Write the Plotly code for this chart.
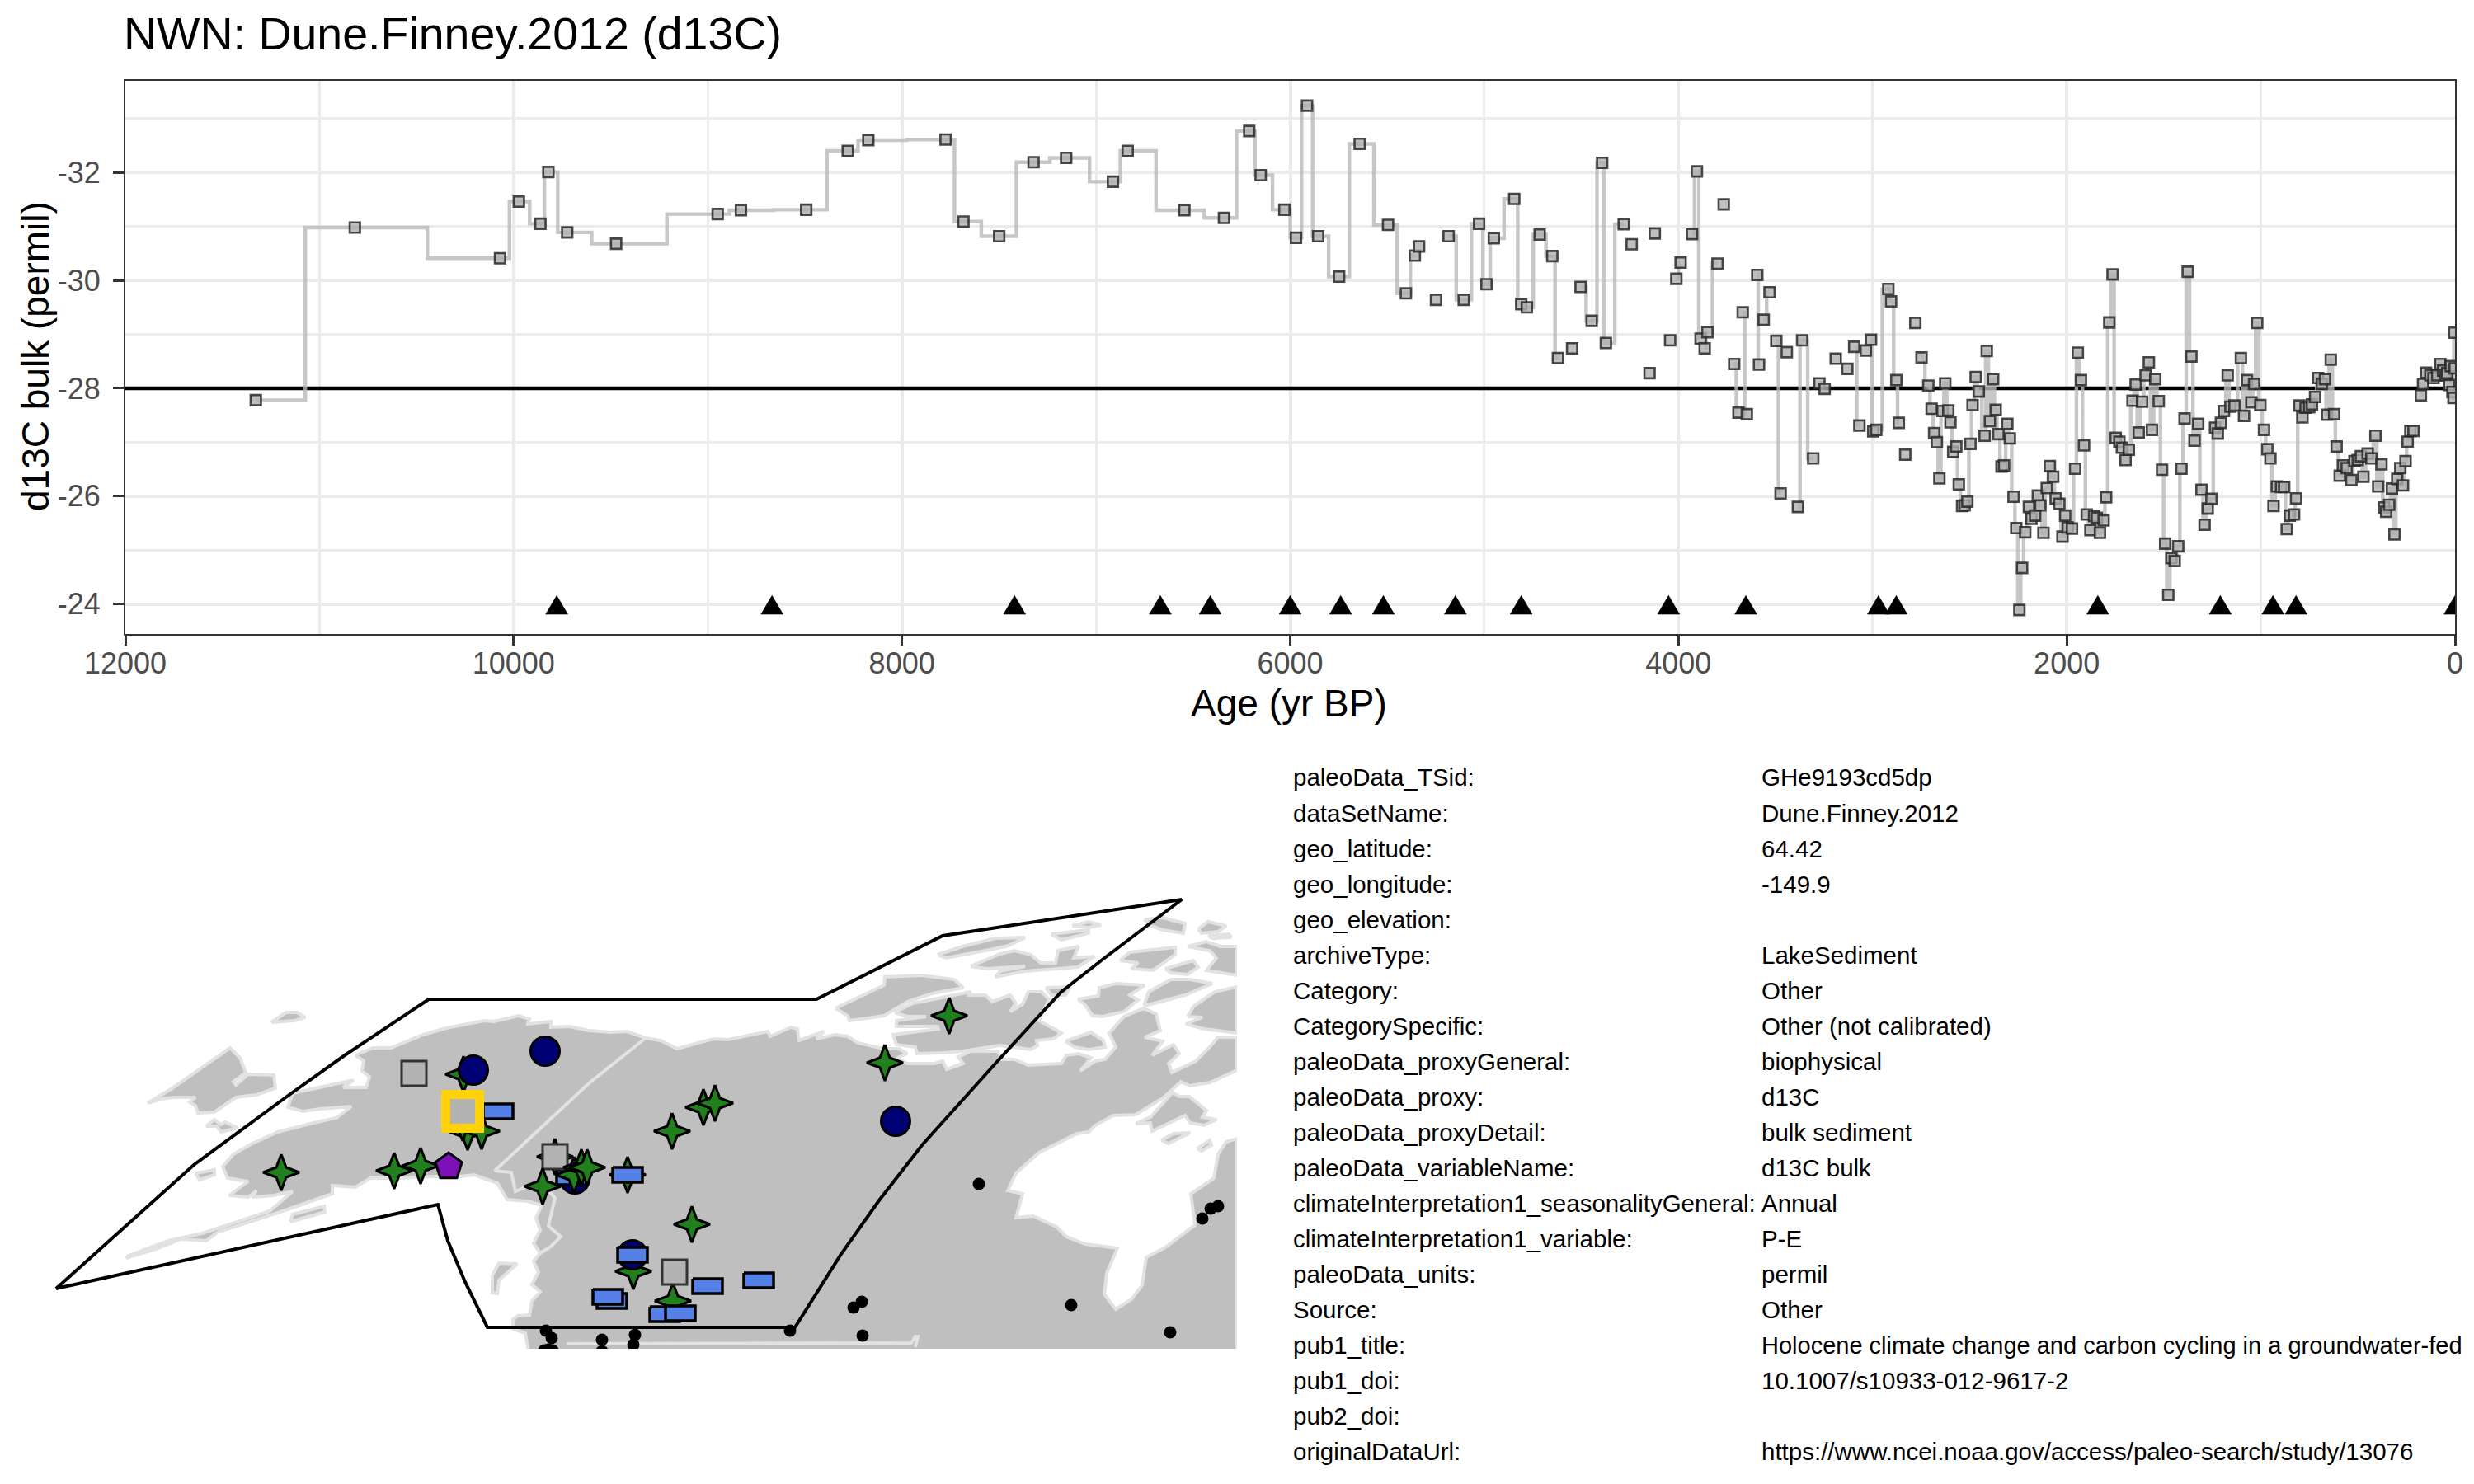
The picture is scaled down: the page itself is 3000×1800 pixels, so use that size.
import plotly.graph_objects as go

N = None
FONT = "Liberation Sans"

# ---------- time series (gaps are None) ----------
age_yr = [
 11328,10818,10070,9973,9862,9821,9724,9472,8949,8829,8493,8279,8173,7775,7683,7499,7322,7154,6913,6837,
 6545,6341,6211,6152,6030,5970,5913,5856,5748,5642,5496,5404,5358,N,
 5336,N,5249,N,5184,5106,5027,4989,4951,4846,4810,4781,4715,4650,4621,N,
 4548,N,4504,4447,4393,4374,4282,N,4241,N,4149,N,4122,N,4043,N,4011,3989,N,3930,3905,3886,N,
 3865,3851,3799,N,3767,N,3713,3691,N,3669,3648,N,3594,3585,N,3561,3531,N,3496,3474,N,3442,N,
 3385,3363,3306,N,3274,3247,N,3190,N,3130,N,3095,3068,N,3035,N,3008,2997,N,2981,2919,2905,2878,2865,N,
 2832,N,2780,N,
 2748,2713,2696,2683,2669,2656,2640,2626,2610,2599,2585,2569,2556,2539,2526,2512,2496,2485,2469,2453,
 2423,2412,2396,2379,2366,2352,2336,2323,2306,2293,2274,2260,2244,2230,2214,2195,2182,2163,2149,2136,
 2120,2103,2087,2070,2057,2038,2022,2008,1995,1973,1957,1943,1927,1911,1897,1878,1859,1845,1829,1810,
 1797,1781,1764,1748,1729,1716,1697,1680,1661,1645,1629,1612,1594,1577,1561,1544,1526,1509,1493,1477,
 1461,1444,1426,1409,1393,1377,1358,1342,1323,1306,1290,1274,1255,1236,1222,1206,1190,1171,1157,1136,
 1103,1087,1071,1049,1035,1019,1003,984,967,951,935,918,896,880,867,851,829,819,802,786,
 770,751,737,721,705,686,670,659,640,623,610,594,577,558,534,518,501,485,472,450,
 431,410,396,379,366,355,339,325,312,298,282,268,255,244,230,214,N,
 176,165,149,127,111,92,76,62,49,40,30,22,13,8,4,2]
d13c_permil = [
 -27.78,-30.98,-30.41,-31.46,-31.05,-32.01,-30.89,-30.68,-31.23,-31.30,-31.31,-32.40,-32.60,-32.61,-31.09,-30.82,-32.19,-32.27,-31.83,-32.40,
 -31.30,-31.16,-32.77,-31.95,-31.31,-30.79,-33.24,-30.82,-30.07,-32.53,-31.03,-29.76,-30.46,N,
 -30.63,N,-29.64,N,-30.82,-29.64,-31.05,-29.93,-30.78,-31.51,-29.56,-29.50,-30.85,-30.45,-28.56,N,
 -28.74,N,-29.88,-29.25,-32.18,-28.84,-31.04,N,-30.67,N,-28.28,N,-30.87,N,-28.89,N,-30.03,-30.33,N,-30.86,-32.02,-28.92,N,
 -28.74,-29.04,-30.31,N,-31.41,N,-28.45,-27.55,N,-29.41,-27.52,N,-30.10,-28.44,N,-29.27,-29.78,N,-28.88,-26.05,N,-28.67,N,
 -25.80,-28.89,-26.70,N,-28.09,-27.99,N,-28.55,N,-28.36,N,-28.77,-27.31,N,-28.70,N,-28.90,-27.20,N,-27.23,-29.84,-29.61,-28.15,-27.36,N,
 -26.77,N,-29.21,N,
 -28.57,-28.05,-27.62,-27.17,-27.00,-26.33,-27.58,-28.09,-27.59,-27.37,-26.82,-26.92,-26.22,-25.82,-25.83,-25.90,-26.97,-27.69,-28.21,-27.94,
 -27.12,-28.69,-27.39,-28.17,-27.60,-27.15,-26.55,-26.57,-27.34,-27.07,-25.99,-25.41,-23.89,-24.67,-25.33,-25.80,-25.58,-25.64,-26.01,-25.83,
 -25.32,-26.15,-26.56,-26.36,-25.96,-25.86,-25.25,-25.64,-25.42,-25.40,-26.51,-28.66,-28.15,-26.94,-25.66,-25.37,-25.63,-25.60,-25.32,-25.55,
 -25.98,-29.22,-30.11,-27.08,-27.01,-26.90,-26.67,-26.86,-27.77,-28.07,-27.18,-27.75,-28.24,-28.48,-27.23,-28.17,-27.76,-26.49,-25.12,-24.17,
 -24.85,-24.80,-25.07,-26.51,-27.44,-30.16,-28.59,-27.03,-27.34,-26.12,-25.47,-25.77,-25.95,-27.27,-27.16,-27.36,-27.58,-28.24,-27.66,-27.68,
 -28.56,-27.49,-28.15,-27.74,-28.08,-29.21,-27.69,-27.23,-26.87,-26.70,-25.82,-26.18,-26.17,-26.17,-25.39,-25.64,-25.66,-25.96,-27.68,-27.46,
 -27.64,-27.65,-27.70,-27.84,-28.19,-28.08,-28.17,-27.51,-28.53,-27.52,-26.92,-26.38,-26.57,-26.52,-26.30,-26.65,-26.67,-26.74,-26.36,-26.79,
 -26.70,-27.12,-26.18,-26.59,-25.79,-25.71,-25.84,-26.14,-25.29,-26.32,-26.52,-26.20,-26.65,-27.01,-27.21,-27.21,N,
 -27.87,-28.08,-28.29,-28.24,-28.19,-28.24,-28.45,-28.33,-28.24,-28.28,-28.06,-28.41,-27.93,-27.82,-29.03,-28.37]

chron_ages = [9778,8669,7420,6669,6412,6000,5740,5520,5149,4810,4051,3653,2970,2878,1840,1209,938,819,0]
chron_level = -24

x_tick_vals = [12000,10000,8000,6000,4000,2000,0]
x_tick_text = ["12000","10000","8000","6000","4000","2000","0"]
y_tick_vals = [-32,-30,-28,-26,-24]
y_tick_text = ["-32","-30","-28","-26","-24"]
mean_level = -28

# ---------- map, in projected map units ----------
mainland = [(431,1280),(452,1271),(474,1271),(513,1255),(541,1247),(587,1238),(599,1239),(629,1232),(642,1236),(640,1242),(668,1239),(668,1246),(691,1245),(714,1250),(740,1252),(760,1251),(783,1259),(801,1262),(821,1272),(842,1266),(865,1260),(883,1261),(931,1251),(934,1257),(959,1246),(967,1248),(969,1262),(999,1251),(990,1260),(1013,1255),(1028,1257),(1040,1265),(1072,1272),(1090,1272),(1100,1278),(1088,1283),(1100,1290),(1133,1290),(1143,1287),(1148,1297),(1168,1290),(1162,1282),(1177,1275),(1210,1275),(1215,1285),(1230,1285),(1247,1292),(1287,1290),(1293,1280),(1308,1278),(1323,1283),(1310,1299),(1328,1287),(1340,1285),(1353,1270),(1345,1253),(1363,1233),(1387,1223),(1402,1230),(1407,1250),(1388,1258),(1410,1263),(1397,1280),(1423,1267),(1430,1278),(1417,1290),(1421,1301),(1450,1287),(1465,1272),(1477,1258),(1500,1258),
 (1500,1298),(1467,1313),(1443,1317),(1432,1312),(1410,1332),(1377,1352),(1350,1353),(1328,1365),(1320,1373),(1306,1375),(1260,1398),(1232,1423),(1222,1444),(1240,1448),(1232,1477),(1253,1475),(1281,1488),(1293,1500),(1316,1509),(1355,1514),(1342,1544),(1339,1570),(1353,1588),(1372,1576),(1385,1559),(1390,1525),(1413,1513),(1449,1486),(1444,1448),(1472,1429),(1477,1400),(1487,1385),(1500,1381),
 (1500,1650),(643,1650),(637,1617),(622,1612),(622,1600),(628,1596),(642,1595),(645,1578),(655,1567),(645,1558),(653,1543),(647,1530),(655,1520),(647,1508),(655,1492),(650,1477),(657,1462),
 (640,1457),(615,1455),(603,1435),(575,1425),(557,1427),(525,1427),(485,1429),(449,1429),(431,1440),(403,1438),(403,1448),(367,1461),(337,1471),(306,1481),(265,1494),(250,1505),(219,1503),(189,1515),(153,1526),
 (156,1523),(204,1505),(245,1496),(286,1482),(327,1469),(355,1445),(332,1450),(306,1452),(311,1444),(301,1452),(278,1450),(301,1433),(276,1429),(270,1415),(283,1400),(306,1387),(337,1373),(380,1362),(408,1356),(426,1342),(388,1345),(367,1348),(349,1343),(355,1326),(429,1310),(416,1319),(444,1319),(448,1306),(439,1299),(441,1287)]
islands = [
 [(329,1240),(347,1228),(360,1228),(370,1234),(357,1238)],
 [(179,1338),(209,1320),(279,1271),(291,1283),(298,1301),(283,1312),(286,1316),(301,1303),(332,1304),(334,1320),(311,1328),(286,1331),(260,1349),(240,1350),(237,1341),(230,1337),(237,1331),(209,1331),(196,1333)],
 [(250,1366),(260,1358),(268,1364),(273,1361),(288,1368),(268,1373),(263,1366)],
 [(237,1423),(260,1419),(260,1425),(242,1431)],
 [(352,1482),(355,1473),(393,1463),(394,1470)],
 [(597,1547),(605,1532),(627,1533),(605,1553),(603,1569),(597,1568)],
 [(1013,1223),(1072,1195),(1073,1185),(1117,1183),(1157,1188),(1168,1198),(1130,1205),(1100,1215),(1072,1232),(1030,1238),(1028,1232)],
 [(1085,1228),(1107,1217),(1177,1203),(1175,1207),(1195,1207),(1203,1215),(1225,1207),(1232,1217),(1225,1227),(1240,1218),(1247,1203),(1263,1203),(1272,1212),(1260,1238),(1287,1253),(1277,1260),(1257,1262),(1258,1268),(1250,1273),(1213,1268),(1200,1270),(1167,1275),(1143,1277),(1112,1278),(1110,1270),(1087,1267),(1083,1255),(1138,1248),(1137,1245),(1087,1245),(1087,1238),(1123,1233),(1100,1233)],
 [(1268,1198),(1298,1197),(1292,1207),(1275,1207)],
 [(1137,1158),(1167,1148),(1207,1138),(1243,1137),(1223,1147),(1200,1152),(1147,1162)],
 [(1177,1172),(1213,1157),(1230,1153),(1250,1158),(1262,1168),(1280,1168),(1283,1153),(1308,1148),(1302,1162),(1327,1160),(1307,1173),(1243,1178),(1207,1185),(1213,1178),(1243,1172),(1197,1175)],
 [(1275,1133),(1320,1128),(1320,1132),(1287,1140)],
 [(1300,1123),(1320,1118),(1335,1122),(1320,1125)],
 [(1388,1115),(1410,1113),(1437,1120),(1435,1132),(1410,1128),(1393,1122)],
 [(1453,1127),(1465,1118),(1487,1123),(1477,1130),(1457,1132)],
 [(1465,1135),(1490,1133),(1493,1137),(1470,1138)],
 [(1440,1148),(1463,1142),(1480,1148),(1500,1148),(1500,1183),(1463,1177),(1475,1162),(1467,1153)],
 [(1358,1165),(1370,1155),(1425,1149),(1425,1158),(1398,1177),(1372,1175),(1380,1168)],
 [(1413,1175),(1447,1165),(1453,1173),(1440,1182),(1420,1180)],
 [(1307,1212),(1332,1208),(1333,1198),(1353,1193),(1388,1195),(1370,1207),(1380,1213),(1363,1227),(1337,1233),(1325,1232),(1315,1218)],
 [(1387,1220),(1393,1203),(1420,1188),(1443,1188),(1470,1193),(1437,1207),(1407,1215)],
 [(1440,1233),(1448,1220),(1473,1203),(1500,1197),(1500,1253),(1460,1248),(1438,1242),(1458,1234)],
 [(1292,1263),(1323,1252),(1338,1262),(1340,1270),(1320,1273),(1303,1270)],
 [(1377,1363),(1395,1355),(1422,1325),(1430,1330),(1442,1330),(1463,1347),(1458,1355),(1475,1358),(1460,1365),(1443,1362),(1437,1353),(1397,1372),(1395,1362)],
 [(1408,1383),(1423,1375),(1443,1374),(1417,1387)],
 [(1452,1393),(1467,1383),(1469,1389),(1457,1396)],
]
borders = [
 [(783,1259),(714,1314),(600,1420),(620,1422),(625,1445),(655,1433),(673,1453),(665,1487),(680,1500),(668,1512),(655,1520)],
 [(687,1630),(1105,1629),(1110,1621),(1113,1621),(1110,1634)],
]
region_outline = [(68,1563),(153,1486),(235,1413),(352,1327),(418,1280),(520,1212),(990,1212),(1143,1135),(1433,1091),(1338,1163),(1287,1203),(1260,1232),(1207,1290),(1118,1389),(1066,1456),(1020,1521),(964,1610),(591,1610),(564,1555),(543,1505),(531,1461),(68,1563)]

site_dots = [(1187,1436),(1458,1478),(1468,1466),(1477,1463),(1299,1583),(1419,1616),(1046,1620),(1045,1579),(1035,1586),(958,1614),(662,1614),(669,1623),(665,1637),(660,1638),(670,1638),(730,1625),(730,1639),(770,1619),(768,1631)]
stars_under = [(562,1303),(761,1425),(768,1542),(816,1578),(673,1403),(567,1373),(584,1372),(561,1362)]
navy_sites = [(574,1298),(661,1275),(1086,1360),(767,1522),(697,1430)]
blue_sites = [(604,1348),(761,1425),(693,1428),(767,1522),(742,1578),(737,1573),(806,1594),(825,1593),(858,1560),(920,1553)]
gray_sites = [(502,1302),(673,1403),(818,1543)]
stars_over = [(341,1422),(478,1420),(510,1414),(658,1439),(696,1425),(705,1416),(712,1416),(815,1372),(853,1343),(867,1338),(839,1485),(1073,1289),(1151,1232)]
purple_sites = [(544,1415)]
this_site = [(561,1348)]

meta_labels = ["paleoData_TSid:","dataSetName:","geo_latitude:","geo_longitude:","geo_elevation:","archiveType:","Category:","CategorySpecific:","paleoData_proxyGeneral:","paleoData_proxy:","paleoData_proxyDetail:","paleoData_variableName:","climateInterpretation1_seasonalityGeneral:","climateInterpretation1_variable:","paleoData_units:","Source:","pub1_title:","pub1_doi:","pub2_doi:","originalDataUrl:"]
meta_values = ["GHe9193cd5dp","Dune.Finney.2012","64.42","-149.9","","LakeSediment","Other","Other (not calibrated)","biophysical","d13C","bulk sediment","d13C bulk","Annual","P-E","permil","Other","Holocene climate change and carbon cycling in a groundwater-fed","10.1007/s10933-012-9617-2","","https://www.ncei.noaa.gov/access/paleo-search/study/13076"]

W, H = 3000, 1800
fig = go.Figure()

def split(shapes):
    xs, ys = [], []
    for s in shapes:
        xs += [p[0] for p in s] + [s[0][0], None]
        ys += [p[1] for p in s] + [s[0][1], None]
    return xs, ys

# --- series panel
fig.add_trace(go.Scatter(x=[12000, 0], y=[mean_level, mean_level], mode="lines", line=dict(color="black", width=4.6), hoverinfo="skip"))
fig.add_trace(go.Scatter(x=age_yr, y=d13c_permil, mode="lines", line=dict(color="rgba(185,185,185,0.8)", width=4.4, shape="hvh"), connectgaps=False))
fig.add_trace(go.Scatter(x=age_yr, y=d13c_permil, mode="markers",
                         marker=dict(symbol="square", size=12.5, color="rgba(175,175,175,0.8)", line=dict(color="rgba(40,40,40,0.85)", width=2.6))))
tx, ty = [], []
for a in chron_ages:
    tx += [a - 57, a + 57, a, a - 57, None]
    ty += [chron_level + 0.19, chron_level + 0.19, chron_level - 0.16, chron_level + 0.19, None]
fig.add_trace(go.Scatter(x=tx, y=ty, mode="lines", fill="toself", fillcolor="black", line=dict(color="black", width=0.5)))

# --- map panel
MX, MY = "x2", "y2"
lx, ly = split([mainland] + islands)
fig.add_trace(go.Scatter(x=lx, y=ly, xaxis=MX, yaxis=MY, mode="lines", fill="toself", fillcolor="#bfbfbf", line=dict(color="#e2e2e2", width=4)))
bx, by = [], []
for b in borders:
    bx += [p[0] for p in b] + [None]
    by += [p[1] for p in b] + [None]
fig.add_trace(go.Scatter(x=bx, y=by, xaxis=MX, yaxis=MY, mode="lines", line=dict(color="#e2e2e2", width=4)))
fig.add_trace(go.Scatter(x=[p[0] for p in region_outline], y=[p[1] for p in region_outline], xaxis=MX, yaxis=MY, mode="lines", line=dict(color="black", width=4)))

def markers(points, symbol, size, color, line_color="black", lw=3):
    fig.add_trace(go.Scatter(x=[p[0] for p in points], y=[p[1] for p in points], xaxis=MX, yaxis=MY, mode="markers",
                             marker=dict(symbol=symbol, size=size, color=color, line=dict(color=line_color, width=lw))))

STAR_TIP, STAR_WAIST = 22, 6
def stars(points):
    for cx, cy in points:
        t, w = STAR_TIP, STAR_WAIST
        xs = [cx, cx + w, cx + t, cx + w, cx, cx - w, cx - t, cx - w, cx]
        ys = [cy - t, cy - w, cy, cy + w, cy + t, cy + w, cy, cy - w, cy - t]
        fig.add_trace(go.Scatter(x=xs, y=ys, xaxis=MX, yaxis=MY, mode="lines", fill="toself", fillcolor="#217f1d",
                                 line=dict(color="black", width=3)))

markers(site_dots, "circle", 15, "black", lw=0)
stars(stars_under)
markers(navy_sites, "circle", 35, "#000075")
for cx, cy in blue_sites:
    fig.add_trace(go.Scatter(x=[cx-18, cx+18, cx+18, cx-18, cx-18], y=[cy-9, cy-9, cy+9, cy+9, cy-9], xaxis=MX, yaxis=MY,
                             mode="lines", fill="toself", fillcolor="#5480e8", line=dict(color="black", width=3.5)))
markers(gray_sites, "square", 30, "#b3b3b3", line_color="#333333", lw=3)
stars(stars_over)
markers(purple_sites, "pentagon", 34, "#7d11b8")
markers(this_site, "square", 41, "#b3b3b3", line_color="#ffd20a", lw=11)

# --- metadata table
ann = []
for i, (a, b) in enumerate(zip(meta_labels, meta_values)):
    yp = 1 - (943 + i * 43.05) / H
    ann.append(dict(x=1566 / W, y=yp, xref="paper", yref="paper", text=a, showarrow=False, xanchor="left", yanchor="middle", font=dict(family=FONT, size=29.5, color="black")))
    if b:
        ann.append(dict(x=2134 / W, y=yp, xref="paper", yref="paper", text=b, showarrow=False, xanchor="left", yanchor="middle", font=dict(family=FONT, size=29 if len(b) > 60 else 29.5, color="black")))
ann.append(dict(x=1563 / W, y=1 - 853 / H, xref="paper", yref="paper", text="Age (yr BP)", showarrow=False, xanchor="center", yanchor="middle", font=dict(family=FONT, size=46, color="black")))
ann.append(dict(x=43 / W, y=1 - 432 / H, xref="paper", yref="paper", text="d13C bulk (permil)", textangle=-90, showarrow=False, xanchor="center", yanchor="middle", font=dict(family=FONT, size=46, color="black")))

grid = "#ebebeb"
fig.update_layout(
    width=W, height=H, margin=dict(l=0, r=0, t=0, b=0, autoexpand=False), showlegend=False, hovermode=False,
    paper_bgcolor="white", plot_bgcolor="white", font=dict(family=FONT),
    title=dict(text="NWN: Dune.Finney.2012 (d13C)", x=150 / W, xanchor="left", xref="paper", y=1 - 41 / H, yanchor="middle", yref="paper",
               font=dict(family=FONT, size=55.5, color="black")),
    annotations=ann,
    xaxis=dict(domain=[152 / W, 2977 / W], range=[12000, 0], tickvals=x_tick_vals, ticktext=x_tick_text, ticks="outside", ticklen=12, tickwidth=3, tickcolor="#333333",
               tickfont=dict(family=FONT, size=36, color="#4d4d4d"), ticklabelstandoff=-9, showgrid=True, gridcolor=grid, gridwidth=4, automargin=False,
               minor=dict(tickvals=[11000, 9000, 7000, 5000, 3000, 1000], showgrid=True, gridcolor=grid, gridwidth=2.5, ticks=""),
               showline=True, linecolor="#333333", linewidth=2, mirror=True, zeroline=False, anchor="y"),
    yaxis=dict(domain=[1 - 769 / H, 1 - 98 / H], range=[-23.445, -33.70], tickvals=y_tick_vals, ticktext=y_tick_text, ticks="outside", ticklen=13, tickwidth=3, tickcolor="#333333",
               tickfont=dict(family=FONT, size=36, color="#4d4d4d"), ticklabelstandoff=8, showgrid=True, gridcolor=grid, gridwidth=4, automargin=False,
               minor=dict(tickvals=[-33, -31, -29, -27, -25], showgrid=True, gridcolor=grid, gridwidth=2.5, ticks=""),
               showline=True, linecolor="#333333", linewidth=2, mirror=True, zeroline=False, anchor="x"),
    xaxis2=dict(domain=[0, 1500 / W], range=[0, 1500], visible=False, anchor="y2", automargin=False),
    yaxis2=dict(domain=[1 - 1636 / H, 1 - 1050 / H], range=[1636, 1050], visible=False, anchor="x2", automargin=False),
)
fig.write_html("out.html", post_script="document.body.style.margin='0';", config={"displayModeBar": False})
